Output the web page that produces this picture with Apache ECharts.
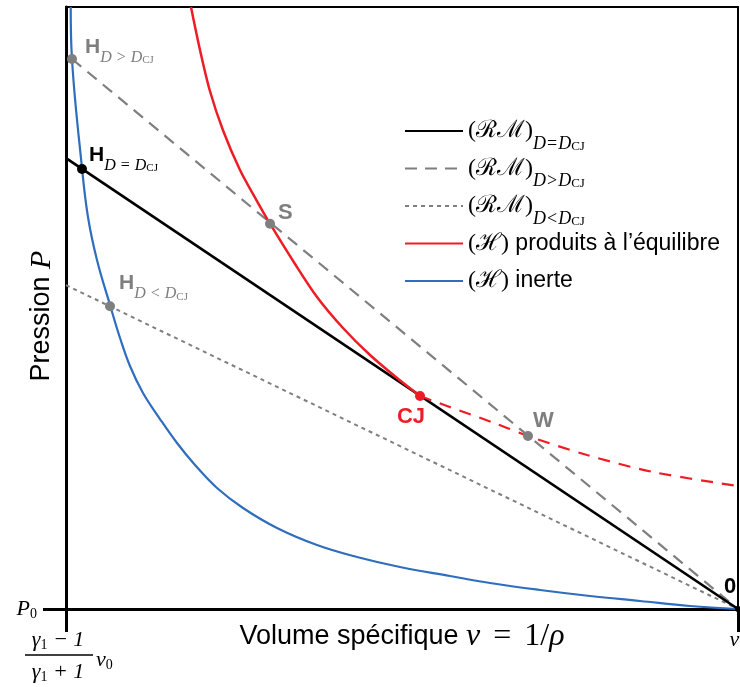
<!DOCTYPE html>
<html><head><meta charset="utf-8">
<script src="https://cdn.jsdelivr.net/npm/echarts@6/dist/echarts.min.js"></script>
<style>html,body{margin:0;padding:0;background:#fff}#c{width:740px;height:687px}</style>
</head><body><div id="c"></div>
<script>
// Normalised scales: v = 0 at (γ1-1)/(γ1+1)·v0, v = 100 at v0 ; P = 0 at P0
const xRange = [0, 100];
const yRange = [0, 100];

// (H) inerte
const inertHugoniot = [[0.7,100],[0.89,91.36],[2.38,73.26],[3.27,65.12],[4.61,57.97],[6.55,50.5],[8.04,45.02],[9.52,40.37],[11.46,35.88],[13.99,31.56],[16.52,27.57],[19.2,23.92],[22.47,20.1],[26.34,16.78],[31.4,13.46],[37.35,10.63],[43.3,8.64],[49.7,6.98],[57.14,5.48],[63.1,4.32],[70.54,3.16],[77.98,2.16],[85.42,1.33],[92.86,0.5],[100,0]];
// (H) produits à l'équilibre : solid branch (top -> CJ) and dashed branch (CJ -> right)
const productsHugoniot = [[18.6,100],[19.94,92.86],[21.43,86.0],[23.36,79.53],[25.89,72.92],[28.42,67.77],[30.36,64.0],[34.08,57.31],[37.35,51.83],[41.22,46.68],[45.24,42.19],[49.26,38.37],[52.68,35.38]];
const productsHugoniotWeak = [[52.68,35.38],[56.7,33.72],[64.14,30.73],[68.75,28.74],[77.53,25.58],[87.35,22.76],[100,20.43]];
// Rayleigh-Michelson lines
const rmCJ = [[0,74.9],[100,0]];
const rmFast = [[0.89,91.36],[100,0]];
const rmSlow = [[0,53.8],[100,0]];
// special points
const ptHFast = [0.89,91.36];
const ptHCJ = [2.38,73.1];
const ptHSlow = [6.55,50.3];
const ptS = [30.36,64.0];
const ptCJ = [52.68,35.38];
const ptW = [68.75,28.74];
const ptO = [100,0];
// axis tick values
const xTickValues = [0,100];
const yTickValues = [0];

const GRAY = '#7f7f7f', RED = '#ee1c25', BLUE = '#2f6dbd', BLACK = '#000';
const SANS = 'Liberation Sans, Arial, sans-serif';
const SERIF = 'Liberation Serif, DejaVu Serif, serif';

const subRich = {
  H: {fontFamily: SANS, fontWeight: 'bold', fontSize: 21, lineHeight: 38},
  d: {fontFamily: SERIF, fontStyle: 'italic', fontSize: 16, lineHeight: 16, verticalAlign: 'bottom'},
  o: {fontFamily: SERIF, fontSize: 16, lineHeight: 16, verticalAlign: 'bottom', padding: [0,5,0,5]},
  c: {fontFamily: SERIF, fontSize: 11, lineHeight: 11, verticalAlign: 'bottom'}
};
const bigLabel = {fontFamily: SANS, fontWeight: 'bold', fontSize: 22};

function pointSeries(name, pt, color, label) {
  return {type: 'scatter', name: name, data: [pt], symbolSize: 10, z: 10,
    itemStyle: {color: color, opacity: 1}, label: Object.assign({show: true, color: color}, label)};
}

const legendText = {
  rmCJ: '{m|(ℛℳ)}{d|D}{o|=}{d|D}{c|CJ}',
  rmFast: '{m|(ℛℳ)}{d|D}{o|>}{d|D}{c|CJ}',
  rmSlow: '{m|(ℛℳ)}{d|D}{o|<}{d|D}{c|CJ}',
  hProd: '{m|(ℋ)}{t| produits à l’équilibre}{d| }',
  hInert: '{m|(ℋ)}{t| inerte}{d| }'
};

const chart = echarts.init(document.getElementById('c'), null, {renderer: 'canvas'});
chart.setOption({
  animation: false,
  backgroundColor: '#fff',
  grid: {left: 66, right: 2, top: 7, bottom: 78, containLabel: false, outerBoundsMode: 'none',
    show: true, borderColor: BLACK, borderWidth: 2},
  legend: {
    orient: 'vertical', left: 399, top: 114, itemWidth: 58, itemHeight: 14, itemGap: 3.5,
    selectedMode: false,
    itemStyle: {color: 'rgba(0,0,0,0)', borderWidth: 0, opacity: 0},
    data: ['rmCJ','rmFast','rmSlow','hProd','hInert'],
    formatter: n => legendText[n],
    textStyle: {color: BLACK, rich: {
      m: {fontFamily: SERIF, fontSize: 24, lineHeight: 44},
      t: {fontFamily: SANS, fontSize: 23, lineHeight: 44},
      d: {fontFamily: SERIF, fontStyle: 'italic', fontSize: 18, lineHeight: 18, verticalAlign: 'bottom'},
      o: {fontFamily: SERIF, fontSize: 18, lineHeight: 18, verticalAlign: 'bottom', padding: [0,1,0,1]},
      c: {fontFamily: SERIF, fontSize: 13, lineHeight: 13, verticalAlign: 'bottom'}
    }}
  },
  xAxis: {
    type: 'value', min: xRange[0], max: xRange[1],
    axisLine: {show: true, onZero: false, lineStyle: {color: BLACK, width: 3}},
    axisTick: {show: true, customValues: xTickValues, length: 23, lineStyle: {color: BLACK, width: 3}},
    splitLine: {show: false},
    axisLabel: {show: true, customValues: [100], margin: 20, color: BLACK,
      formatter: v => v === 100 ? '{i|v}{s|0}' : '',
      rich: {i: {fontFamily: SERIF, fontStyle: 'italic', fontSize: 22}, s: {fontFamily: SERIF, fontSize: 14, verticalAlign: 'bottom', lineHeight: 12}}},
    name: '{t|Volume spécifique }{i|v}{e|=}{u|1/}{i|ρ}',
    nameLocation: 'middle', nameGap: 11, nameMoveOverlap: false,
    nameTextStyle: {color: BLACK, rich: {
      t: {fontFamily: SANS, fontSize: 27, lineHeight: 34},
      i: {fontFamily: SERIF, fontStyle: 'italic', fontSize: 32, lineHeight: 34},
      e: {fontFamily: SERIF, fontSize: 32, lineHeight: 34, padding: [0, 13, 0, 13]},
      u: {fontFamily: SERIF, fontSize: 32, lineHeight: 34}
    }}
  },
  yAxis: {
    type: 'value', min: yRange[0], max: yRange[1],
    axisLine: {show: true, onZero: false, lineStyle: {color: BLACK, width: 3}},
    axisTick: {show: true, customValues: yTickValues, length: 23, lineStyle: {color: BLACK, width: 3}},
    splitLine: {show: false},
    axisLabel: {show: true, customValues: [0], margin: 29, color: BLACK,
      formatter: v => v === 0 ? '{i|P}{s|0}' : '',
      rich: {i: {fontFamily: SERIF, fontStyle: 'italic', fontSize: 22, lineHeight: 24}, s: {fontFamily: SERIF, fontSize: 14, verticalAlign: 'bottom', lineHeight: 14}}},
    name: '{t|Pression }{i|P}',
    nameLocation: 'middle', nameGap: 8, nameMoveOverlap: false,
    nameTextStyle: {color: BLACK, padding: [0, 16, 0, 0], rich: {
      t: {fontFamily: SANS, fontSize: 27, lineHeight: 32},
      i: {fontFamily: SERIF, fontStyle: 'italic', fontSize: 30, lineHeight: 32}
    }}
  },
  graphic: [
    {type: 'text', x: 58, y: 640, style: {text: '{g|γ}{s|1}{g| − 1}', align: 'center', verticalAlign: 'middle', fill: BLACK,
      rich: {g: {fontFamily: SERIF, fontStyle: 'italic', fontSize: 22, lineHeight: 24}, s: {fontFamily: SERIF, fontSize: 14, lineHeight: 12, verticalAlign: 'bottom'}}}},
    {type: 'line', shape: {x1: 25, y1: 655, x2: 93, y2: 655}, style: {stroke: BLACK, lineWidth: 1.3}},
    {type: 'text', x: 58, y: 672, style: {text: '{g|γ}{s|1}{g| + 1}', align: 'center', verticalAlign: 'middle', fill: BLACK,
      rich: {g: {fontFamily: SERIF, fontStyle: 'italic', fontSize: 22, lineHeight: 24}, s: {fontFamily: SERIF, fontSize: 14, lineHeight: 12, verticalAlign: 'bottom'}}}},
    {type: 'text', x: 96, y: 660, style: {text: '{g|v}{s|0}', align: 'left', verticalAlign: 'middle', fill: BLACK,
      rich: {g: {fontFamily: SERIF, fontStyle: 'italic', fontSize: 22, lineHeight: 24}, s: {fontFamily: SERIF, fontSize: 14, lineHeight: 12, verticalAlign: 'bottom'}}}}
  ],
  series: [
    {type: 'line', name: 'hInert', data: inertHugoniot, symbol: 'none', smooth: 0.4, z: 2,
      lineStyle: {color: BLUE, width: 2.2}, itemStyle: {color: BLUE}},
    {type: 'line', name: 'rmSlow', data: rmSlow, symbol: 'none', z: 3,
      lineStyle: {color: GRAY, width: 2, type: [4, 4]}, itemStyle: {color: GRAY}},
    {type: 'line', name: 'rmFast', data: rmFast, symbol: 'none', z: 3,
      lineStyle: {color: GRAY, width: 2.2, type: [12, 8]}, itemStyle: {color: GRAY}},
    {type: 'line', name: 'rmCJ', data: rmCJ, symbol: 'none', z: 4,
      lineStyle: {color: BLACK, width: 2.7}, itemStyle: {color: BLACK}},
    {type: 'line', name: 'hProd', data: productsHugoniot, symbol: 'none', smooth: 0.3, z: 5,
      lineStyle: {color: RED, width: 2.5}, itemStyle: {color: RED}},
    {type: 'line', name: 'hProdWeak', data: productsHugoniotWeak, symbol: 'none', smooth: 0.3, z: 5,
      lineStyle: {color: RED, width: 2.2, type: [12, 9]}, itemStyle: {color: RED}},
    pointSeries('H>', ptHFast, GRAY, {position: 'right', distance: 8, offset: [0, -12], formatter: '{H|H}{d|D}{o|>}{d|D}{c|CJ}', rich: subRich}),
    pointSeries('H=', ptHCJ, BLACK, {position: 'right', distance: 2, offset: [0, -14], formatter: '{H|H}{d|D}{o|=}{d|D}{c|CJ}', rich: subRich}),
    pointSeries('H<', ptHSlow, GRAY, {position: 'right', distance: 4, offset: [0, -23], formatter: '{H|H}{d|D}{o|<}{d|D}{c|CJ}', rich: subRich}),
    pointSeries('S', ptS, GRAY, Object.assign({position: 'right', distance: 3, offset: [0, -11], formatter: 'S'}, bigLabel)),
    pointSeries('CJ', ptCJ, RED, Object.assign({position: 'bottom', distance: 5, offset: [-9, 0], formatter: 'CJ'}, bigLabel)),
    pointSeries('W', ptW, GRAY, Object.assign({position: 'right', distance: 0, offset: [0, -15], formatter: 'W'}, bigLabel)),
    {type: 'scatter', name: 'O', data: [ptO], symbolSize: 6, z: 10, clip: false, itemStyle: {color: BLACK, opacity: 1},
      label: Object.assign({show: true, color: BLACK, position: 'top', distance: 8, offset: [-8, 0], formatter: '0'}, bigLabel)}
  ]
});
</script></body></html>
